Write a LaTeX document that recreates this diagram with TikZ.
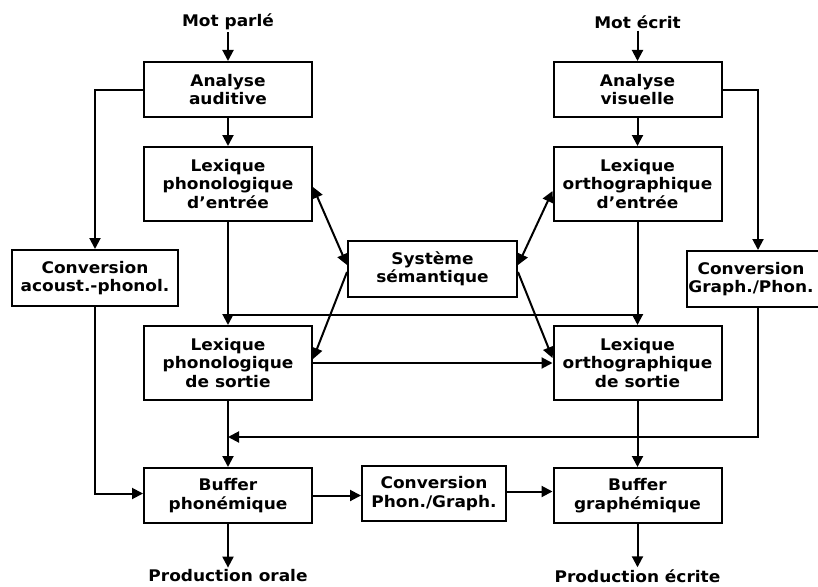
\documentclass[tikz,border=0pt]{standalone}
\usepackage{fontspec}
\setmainfont{DejaVu Sans}[FakeStretch=1.06]
\usetikzlibrary{arrows.meta}
\begin{document}
\begin{tikzpicture}[x=1pt,y=-1pt,
  box/.style={draw,line width=2pt,inner sep=0pt,align=center,font=\fontsize{16}{18.5}\selectfont\bfseries},
  lbl/.style={inner sep=2pt,align=center,font=\fontsize{16}{18.5}\selectfont\bfseries},
  conn/.style={line width=2pt,-{Triangle[length=11pt,width=11pt]}},
  dconn/.style={line width=2pt,{Triangle[length=11pt,width=11pt]}-{Triangle[length=11pt,width=11pt]}},
  plain/.style={line width=2pt}]
\path[use as bounding box,fill=white] (0,0) rectangle (818,586);
% text labels
\node[lbl] (mp) at (228,22) {Mot parlé};
\node[lbl] (me) at (637.5,22) {Mot écrit};
\node[lbl] (po) at (228,576) {Production orale};
\node[lbl] (pe) at (637.5,576) {Production écrite};
% boxes
\node[box,minimum width=168pt,minimum height=55pt] (aa) at (228,89.5) {Analyse\\auditive};
\node[box,minimum width=168pt,minimum height=74pt] (lpe) at (228,184) {Lexique\\phonologique\\d'entrée};
\node[box,minimum width=166pt,minimum height=56pt] (cap) at (95,278) {Conversion\\acoust.-phonol.};
\node[box,minimum width=169pt,minimum height=56pt] (ss) at (432.5,269) {Système\\sémantique};
\node[box,minimum width=168pt,minimum height=74pt] (lps) at (228,363) {Lexique\\phonologique\\de sortie};
\node[box,minimum width=168pt,minimum height=55pt] (bp) at (228,495.5) {Buffer\\phonémique};
\node[box,minimum width=144pt,minimum height=55pt] (cpg) at (434,493.5) {Conversion\\Phon./Graph.};
\node[box,minimum width=168pt,minimum height=55pt] (av) at (637.5,89.5) {Analyse\\visuelle};
\node[box,minimum width=168pt,minimum height=74pt] (loe) at (637.5,184) {Lexique\\orthographique\\d'entrée};
\node[box,minimum width=142pt,minimum height=56pt] (cgp) at (758,279) {Conversion\hspace*{14pt}\\Graph./Phon.\hspace*{14pt}};
\node[box,minimum width=168pt,minimum height=74pt] (los) at (637.5,363) {Lexique\\orthographique\\de sortie};
\node[box,minimum width=168pt,minimum height=55pt] (bg) at (637.5,495.5) {Buffer\\graphémique};
% junction coordinates
\coordinate (j1) at (228,315);
\coordinate (j2) at (637.5,315);
\coordinate (j3) at (228,437);
% connectors
\draw[conn] (mp.south) -- (aa.north);
\draw[conn] (me.south) -- (av.north);
\draw[conn] (aa) -- (lpe);
\draw[conn] (av) -- (loe);
\draw[conn] (aa.west) -| (cap.north);
\draw[conn] (av.east) -| (cgp.north);
\draw[conn] (lpe) -- (lps);
\draw[conn] (loe) -- (los);
\draw[plain] (j1) -- (j2);
\draw[dconn] ([yshift=-3pt]lpe.east) -- ([yshift=4pt]ss.west);
\draw[dconn] ([yshift=-7pt]loe.west) -- ([yshift=4pt]ss.east);
\draw[conn] ([yshift=-3pt]ss.west) -- ([yshift=4pt]lps.east);
\draw[conn] ([yshift=-3pt]ss.east) -- ([yshift=5pt]los.west);
\draw[conn] (lps.east) -- (los.west);
\draw[conn] (lps) -- (bp);
\draw[conn] (los) -- (bg);
\draw[conn] (cgp.south) |- (j3);
\draw[conn] (cap.south) |- ([yshift=2pt]bp.west);
\draw[conn] (bp.east) -- (bp.east -| cpg.west);
\draw[conn] ([yshift=2pt]cpg.east) -- ([yshift=2pt]cpg.east -| bg.west);
\draw[conn] (bp.south) -- (po.north);
\draw[conn] (bg.south) -- (pe.north);
\end{tikzpicture}
\end{document}
